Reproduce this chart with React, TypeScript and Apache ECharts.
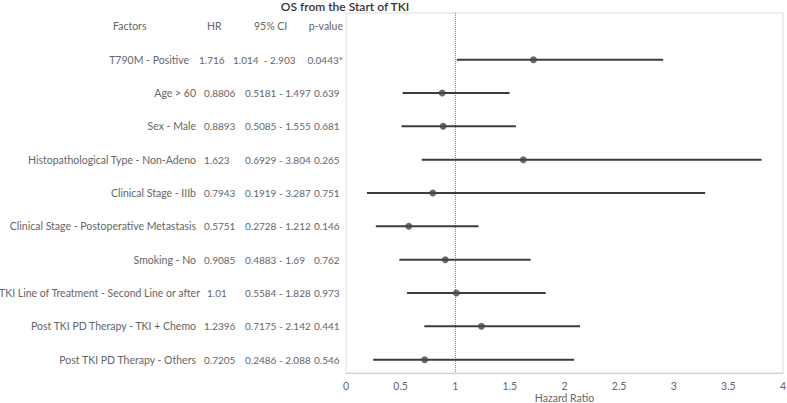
import React, { useEffect, useRef } from "react";
import * as echarts from "echarts";

const chartTitle = "OS from the Start of TKI";
const factors = [
  "T790M - Positive",
  "Age > 60",
  "Sex - Male",
  "Histopathological Type - Non-Adeno",
  "Clinical Stage - IIIb",
  "Clinical Stage - Postoperative Metastasis",
  "Smoking - No",
  "TKI Line of Treatment - Second Line or after",
  "Post TKI PD Therapy - TKI + Chemo",
  "Post TKI PD Therapy - Others",
];
const hrValues = [1.716, 0.8806, 0.8893, 1.623, 0.7943, 0.5751, 0.9085, 1.01, 1.2396, 0.7205];
const lowerCI = [1.014, 0.5181, 0.5085, 0.6929, 0.1919, 0.2728, 0.4883, 0.5584, 0.7175, 0.2486];
const upperCI = [2.903, 1.497, 1.555, 3.804, 3.287, 1.212, 1.69, 1.828, 2.142, 2.088];
const pValues = ["0.0443*", "0.639", "0.681", "0.265", "0.751", "0.146", "0.762", "0.973", "0.441", "0.546"];
const headers = ["Factors", "HR", "95% CI", "p-value"];

const FONT = "Lato";
const TXT = "#666";
const FS_TEXT = 10.5;
const FS_NUM = 10;
const GRID_LEFT = 346;
const HEADER_ROW = -1;

const ciText = (i: number) =>
  i === 0 ? `${lowerCI[i]}  - ${upperCI[i]}` : `${lowerCI[i]} - ${upperCI[i]}`;

// column definitions: which rows, text getter, anchor x, alignment, font size
type Col = { rows: number[]; text: (i: number) => string; x: number; align: string; fs: number };

const allRows = factors.map((_, i) => i);
const normalRows = allRows.filter((i) => i !== 0 && i !== 7);
const normalP = allRows.filter((i) => i !== 0);

const columns: Col[] = [
  // header
  { rows: [HEADER_ROW], text: () => headers[0], x: 113, align: "left", fs: FS_TEXT },
  { rows: [HEADER_ROW], text: () => headers[1], x: 207, align: "left", fs: FS_TEXT },
  { rows: [HEADER_ROW], text: () => headers[2], x: 254, align: "left", fs: FS_TEXT },
  { rows: [HEADER_ROW], text: () => headers[3], x: 343, align: "right", fs: FS_TEXT },
  // factor column
  { rows: normalRows, text: (i) => factors[i], x: 196, align: "right", fs: FS_TEXT },
  { rows: [0], text: (i) => factors[i], x: 189, align: "right", fs: FS_TEXT },
  { rows: [7], text: (i) => factors[i], x: 200, align: "right", fs: FS_TEXT },
  // HR column
  { rows: normalRows, text: (i) => String(hrValues[i]), x: 204, align: "left", fs: FS_NUM },
  { rows: [0], text: (i) => String(hrValues[i]), x: 199, align: "left", fs: FS_NUM },
  { rows: [7], text: (i) => String(hrValues[i]), x: 207, align: "left", fs: FS_NUM },
  // CI column
  { rows: normalP, text: ciText, x: 245, align: "left", fs: FS_NUM },
  { rows: [0], text: ciText, x: 233, align: "left", fs: FS_NUM },
  // p column
  { rows: normalP, text: (i) => pValues[i], x: 314, align: "left", fs: FS_NUM },
  { rows: [0], text: (i) => pValues[i], x: 343, align: "right", fs: FS_NUM },
];

export default function App() {
  const ref = useRef<HTMLDivElement>(null);
  useEffect(() => {
    if (!ref.current) return;
    const chart = echarts.init(ref.current, null, { renderer: "svg" });

    const yBase = {
      type: "value",
      inverse: true,
      min: -1.4,
      max: 9.4,
      position: "left",
      axisLine: { show: false },
      axisTick: { show: false },
      splitLine: { show: false },
    };
    const yAxes: any[] = [
      { ...yBase, axisLabel: { show: false } },
      ...columns.map((c) => ({
        ...yBase,
        axisLabel: {
          show: true,
          margin: GRID_LEFT - c.x,
          align: c.align,
          fontFamily: FONT,
          fontSize: c.fs,
          color: TXT,
          customValues: c.rows,
          formatter: (v: number) => c.text(Math.round(v)),
        },
      })),
    ];

    chart.setOption({
      animation: false,
      graphic: [
        {
          type: "text",
          x: 345,
          y: 6,
          silent: true,
          style: {
            text: chartTitle,
            align: "center",
            verticalAlign: "middle",
            fontFamily: FONT,
            fontSize: 12,
            fontWeight: 600,
            fill: "#333",
          },
        },
      ],
      grid: {
        left: GRID_LEFT,
        right: 4,
        top: 13,
        bottom: 30,
        containLabel: false,
        outerBoundsMode: "none",
        show: true,
        borderColor: "#dcdcdc",
        borderWidth: 1,
      },
      xAxis: {
        type: "value",
        min: 0,
        max: 4,
        interval: 0.5,
        name: "Hazard Ratio",
        nameLocation: "middle",
        nameGap: 19,
        nameMoveOverlap: false,
        nameTextStyle: { fontFamily: FONT, fontSize: FS_TEXT, color: TXT },
        axisLine: { show: true, onZero: false, lineStyle: { color: "#d0d0d0" } },
        axisTick: { show: false },
        splitLine: { show: false },
        axisLabel: {
          fontFamily: FONT,
          fontSize: FS_TEXT,
          color: TXT,
          margin: 7,
        },
      },
      yAxis: yAxes,
      series: [
        {
          type: "custom",
          yAxisIndex: 0,
          encode: { x: [0, 1], y: 2 },
          data: allRows.map((i) => [lowerCI[i], upperCI[i], i]),
          renderItem: (params: any, api: any) => {
            const p1 = api.coord([api.value(0), api.value(2)]);
            const p2 = api.coord([api.value(1), api.value(2)]);
            return {
              type: "line",
              shape: { x1: p1[0], y1: p1[1], x2: p2[0], y2: p2[1] },
              style: { stroke: "#3c3c3c", lineWidth: 2 },
            };
          },
          z: 3,
        },
        {
          type: "scatter",
          yAxisIndex: 0,
          data: allRows.map((i) => [hrValues[i], i]),
          symbol: "circle",
          symbolSize: 7,
          itemStyle: { color: "#474747" },
          z: 4,
          markLine: {
            silent: true,
            symbol: ["none", "none"],
            label: { show: false },
            lineStyle: { type: "dotted", color: "#8a8a8a", width: 1 },
            data: [{ xAxis: 1 }],
            z: 2,
          },
        },
      ],
    });
    return () => chart.dispose();
  }, []);
  return (
    <div
      ref={ref}
      style={{ position: "absolute", left: 0, top: 0, width: 787, height: 403 }}
    />
  );
}
